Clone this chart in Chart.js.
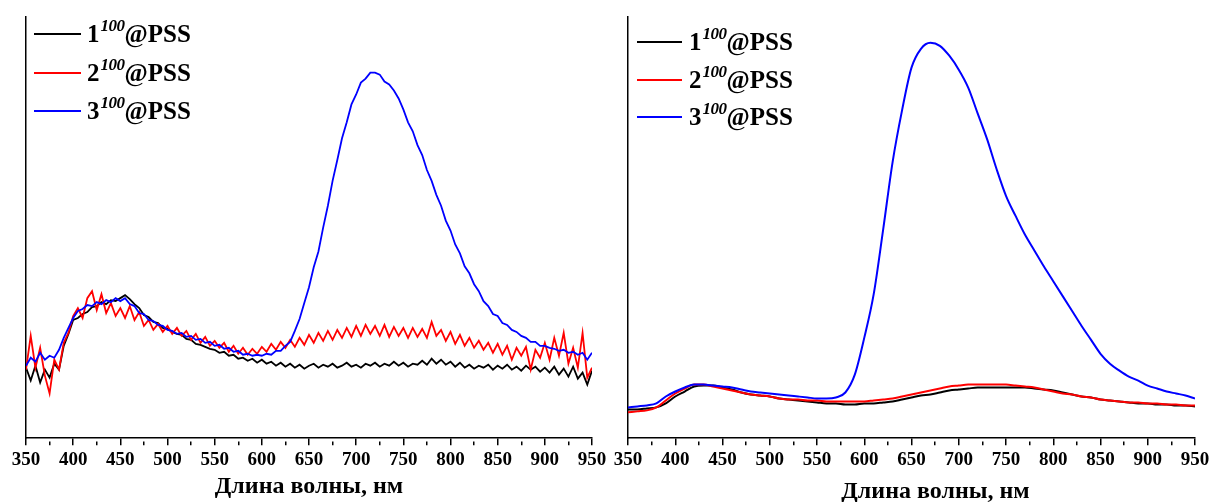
<!DOCTYPE html>
<html lang="ru">
<head>
<meta charset="UTF-8">
<title>Спектры</title>
<style>
  html, body { margin: 0; padding: 0; background: #fff; }
  #wrap { position: relative; width: 1211px; height: 502px; overflow: hidden; }
  canvas { position: absolute; top: 0; }
  #leftChart { left: 0; }
  #rightChart { left: 603px; }
  .legend { position: absolute; font-family: 'Liberation Serif', 'Times New Roman', serif; font-weight: bold; font-size: 25px; line-height: 25px; color: #000; }
  .legend .row { position: absolute; left: 0; white-space: nowrap; }
  .legend .swatch { position: absolute; left: 0; top: -1px; height: 2px; }
  .legend .txt { position: absolute; top: -12.6px; }
  .legend sup { font-size: 17px; font-style: italic; vertical-align: 11px; line-height: 0; letter-spacing: -0.5px; margin-left: 1px; }
</style>
</head>
<body>
<div id="wrap">
  <canvas id="leftChart" width="615" height="512"></canvas>
  <canvas id="rightChart" width="620" height="512"></canvas>
  <div class="legend" id="legendLeft"></div>
  <div class="legend" id="legendRight"></div>
</div>
<script src="https://cdn.jsdelivr.net/npm/chart.js"></script>
<script>
// legend names: 1^100@PSS etc.
const seriesNames = ['1', '2', '3'];
const nameSup = '100';
const nameTail = '@PSS';
const seriesColors = ['#000000', '#ff0000', '#0000ff'];

const xTickLabels = [350, 400, 450, 500, 550, 600, 650, 700, 750, 800, 850, 900, 950];
const xTitle = 'Длина волны, нм';

// left panel (noisy spectra), 5 nm step
const leftWavelengths = [
  350, 355, 360, 365, 370, 375, 380, 385, 390, 395,
  400, 405, 410, 415, 420, 425, 430, 435, 440, 445,
  450, 455, 460, 465, 470, 475, 480, 485, 490, 495,
  500, 505, 510, 515, 520, 525, 530, 535, 540, 545,
  550, 555, 560, 565, 570, 575, 580, 585, 590, 595,
  600, 605, 610, 615, 620, 625, 630, 635, 640, 645,
  650, 655, 660, 665, 670, 675, 680, 685, 690, 695,
  700, 705, 710, 715, 720, 725, 730, 735, 740, 745,
  750, 755, 760, 765, 770, 775, 780, 785, 790, 795,
  800, 805, 810, 815, 820, 825, 830, 835, 840, 845,
  850, 855, 860, 865, 870, 875, 880, 885, 890, 895,
  900, 905, 910, 915, 920, 925, 930, 935, 940, 945,
  950
];
const leftBlack = [
  71, 58, 73, 56, 69, 61, 75, 69, 93, 105,
  119, 121, 125, 127, 132, 133, 137, 135, 139, 138,
  141, 144, 140, 135, 131, 124, 122, 117, 116, 111,
  110, 107, 105, 104, 100, 99, 95, 94, 92, 90,
  89, 86, 87, 83, 84, 80, 81, 78, 80, 76,
  79, 75, 77, 73, 76, 72, 75, 71, 74, 70,
  73, 75, 71, 74, 72, 75, 71, 73, 76, 72,
  74, 71, 75, 73, 76, 72, 75, 73, 77, 73,
  76, 72, 75, 74, 78, 74, 80, 75, 79, 74,
  77, 72, 76, 71, 74, 70, 73, 71, 74, 69,
  73, 70, 74, 69, 72, 68, 73, 69, 72, 67,
  71, 66, 72, 64, 70, 62, 72, 60, 66, 54,
  68
];
const leftRed = [
  69, 103, 71, 91, 63, 45, 79, 69, 96, 106,
  123, 131, 121, 141, 148, 129, 145, 126, 136, 123,
  131, 121, 133, 119, 127, 113, 119, 109, 115, 107,
  113, 105, 111, 103, 108, 99, 105, 96, 102, 93,
  98, 91, 96, 87, 93, 85, 91, 84, 90, 85,
  92, 87, 95, 89, 97, 91, 99, 92, 101, 94,
  104, 96, 106, 98, 108, 99, 109, 101, 111, 102,
  113, 103, 114, 105, 113, 103, 114, 102, 112, 103,
  111, 101, 111, 102, 110, 101, 117, 103, 109, 98,
  107, 95, 104, 93, 101, 91, 98, 89, 96, 86,
  95, 84, 93, 79, 91, 83, 92, 69, 89, 81,
  96, 79, 101, 83, 106, 75, 91, 71, 106, 61,
  71
];
const leftBlue = [
  73, 81, 77, 86, 79, 83, 81, 89, 101, 111,
  121, 128, 130, 134, 133, 137, 135, 139, 137, 141,
  138, 141, 135, 133, 126, 125, 119, 118, 114, 113,
  109, 108, 105, 106, 102, 103, 99, 100, 96, 97,
  93, 94, 90, 91, 87, 88, 84, 85, 83, 84,
  83, 85, 84, 88, 88, 93, 97, 108, 120, 136,
  152, 172, 188, 212, 234, 259, 280, 302, 318, 336,
  346, 358, 362, 368, 368, 366, 359, 356, 350, 342,
  331, 318, 309, 295, 285, 270, 259, 245, 234, 219,
  209, 195, 186, 173, 166, 155, 148, 138, 133, 125,
  123, 116, 114, 109, 107, 103, 101, 97, 97, 93,
  93, 91, 90, 88, 89, 86, 87, 84, 86, 79,
  86
];

// right panel (smooth spectra), 10 nm step
const rightWavelengths = [
  350, 360, 370, 380, 390, 400, 410, 420, 430, 440,
  450, 460, 470, 480, 490, 500, 510, 520, 530, 540,
  550, 560, 570, 580, 590, 600, 610, 620, 630, 640,
  650, 660, 670, 680, 690, 700, 710, 720, 730, 740,
  750, 760, 770, 780, 790, 800, 810, 820, 830, 840,
  850, 860, 870, 880, 890, 900, 910, 920, 930, 940,
  950
];
const rightBlack = [
  29, 29, 30, 31, 35, 42, 47, 52, 53, 53,
  51, 49, 46, 44, 43, 42, 40, 39, 38, 37,
  36, 35, 35, 34, 34, 35, 35, 36, 37, 39,
  41, 43, 44, 46, 48, 49, 50, 51, 51, 51,
  51, 51, 51, 50, 49, 48, 46, 44, 42, 41,
  39, 38, 37, 36, 35, 35, 34, 34, 33, 33,
  32
];
const rightRed = [
  26, 27, 28, 31, 38, 45, 50, 54, 54, 52,
  50, 48, 46, 44, 43, 42, 40, 39, 39, 38,
  38, 37, 37, 37, 37, 37, 38, 39, 40, 42,
  44, 46, 48, 50, 52, 53, 54, 54, 54, 54,
  54, 53, 52, 51, 49, 47, 45, 44, 42, 41,
  39, 38, 37, 36, 36, 35, 35, 34, 34, 33,
  33
];
const rightBlue = [
  31, 32, 33, 35, 42, 47, 51, 54, 54, 53,
  52, 51, 49, 47, 46, 45, 44, 43, 42, 41,
  40, 40, 41, 46, 64, 101, 145, 210, 278, 330,
  373, 392, 398, 395, 385, 371, 353, 327, 301, 271,
  244, 224, 205, 189, 173, 158, 143, 128, 113, 99,
  85, 75, 68, 62, 58, 53, 50, 47, 45, 43,
  40
];

function points(xs, ys) {
  return xs.map((x, i) => ({ x: x, y: ys[i] }));
}

function makeDatasets(xs, series, width, smooth) {
  return series.map((ys, i) => ({
    label: seriesNames[i] + nameSup + nameTail,
    data: points(xs, ys),
    borderColor: seriesColors[i],
    borderWidth: width,
    pointRadius: 0,
    fill: false,
    tension: smooth ? 0.4 : 0,
    cubicInterpolationMode: smooth ? 'monotone' : 'default',
    order: 3 - i   // blue on top, black at the back
  }));
}

// legend drawn as html so the superscript can be italic
const htmlLegend = {
  id: 'htmlLegend',
  afterUpdate(chart, args, opts) {
    const box = document.getElementById(opts.containerID);
    box.innerHTML = '';
    box.style.left = opts.x + 'px';
    box.style.top = opts.y + 'px';
    chart.data.datasets.forEach((ds, i) => {
      const row = document.createElement('div');
      row.className = 'row';
      row.style.top = (i * opts.gap) + 'px';
      const sw = document.createElement('span');
      sw.className = 'swatch';
      sw.style.width = opts.swatch + 'px';
      sw.style.background = ds.borderColor;
      const txt = document.createElement('span');
      txt.className = 'txt';
      txt.style.left = opts.textX + 'px';
      const sup = document.createElement('sup');
      sup.textContent = nameSup;
      txt.append(seriesNames[i], sup, nameTail);
      row.append(sw, txt);
      box.appendChild(row);
    });
  }
};

Chart.defaults.font.family = "'Liberation Serif', 'Times New Roman', serif";
Chart.defaults.color = '#000';

function makeOptions(pad, titleText, titlePad, legendOpts) {
  return {
    responsive: false,
    animation: false,
    layout: { padding: pad },
    plugins: {
      legend: { display: false },
      tooltip: { enabled: false },
      htmlLegend: legendOpts
    },
    scales: {
      x: {
        type: 'linear',
        min: 350,
        max: 950,
        border: { display: true, color: '#000', width: 1.5 },
        grid: {
          display: true,
          drawOnChartArea: false,
          drawTicks: true,
          tickLength: 7,
          tickWidth: 1.5,
          tickColor: '#000',
          lineWidth: 1.5,
          // minor ticks: only the 4 px next to the axis
          tickBorderDash: (c) => (c.tick && !xTickLabels.includes(c.tick.value)) ? [0, 3, 4, 100] : []
        },
        ticks: {
          stepSize: 25,
          autoSkip: false,
          maxRotation: 0,
          padding: 3,
          font: { size: 19, weight: 'bold', lineHeight: 1.2 },
          callback: (v) => xTickLabels.includes(v) ? String(v) : ''
        },
        title: {
          display: true,
          text: titleText,
          font: { size: 24, weight: 'bold', lineHeight: 1 },
          padding: titlePad
        }
      },
      y: {
        min: 0,
        max: 424,
        ticks: { display: false },
        grid: { display: false, drawTicks: false },
        border: { display: true, color: '#000', width: 1.5 }
      }
    }
  };
}

new Chart(document.getElementById('leftChart'), {
  type: 'line',
  data: { datasets: makeDatasets(leftWavelengths, [leftBlack, leftRed, leftBlue], 1.8, false) },
  options: makeOptions({ top: 17, left: 26, right: 23, bottom: 0 }, xTitle, { top: 1, bottom: 13 },
    { containerID: 'legendLeft', x: 34, y: 34, gap: 38.5, swatch: 47, textX: 53 }),
  plugins: [htmlLegend]
});

new Chart(document.getElementById('rightChart'), {
  type: 'line',
  data: { datasets: makeDatasets(rightWavelengths, [rightBlack, rightRed, rightBlue], 2, true) },
  options: makeOptions({ top: 17, left: 25, right: 28, bottom: 0 }, '\u2003\u2003' + xTitle, { top: 6, bottom: 8 },
    { containerID: 'legendRight', x: 637, y: 42, gap: 37.5, swatch: 45, textX: 52 }),
  plugins: [htmlLegend]
});
</script>
</body>
</html>
